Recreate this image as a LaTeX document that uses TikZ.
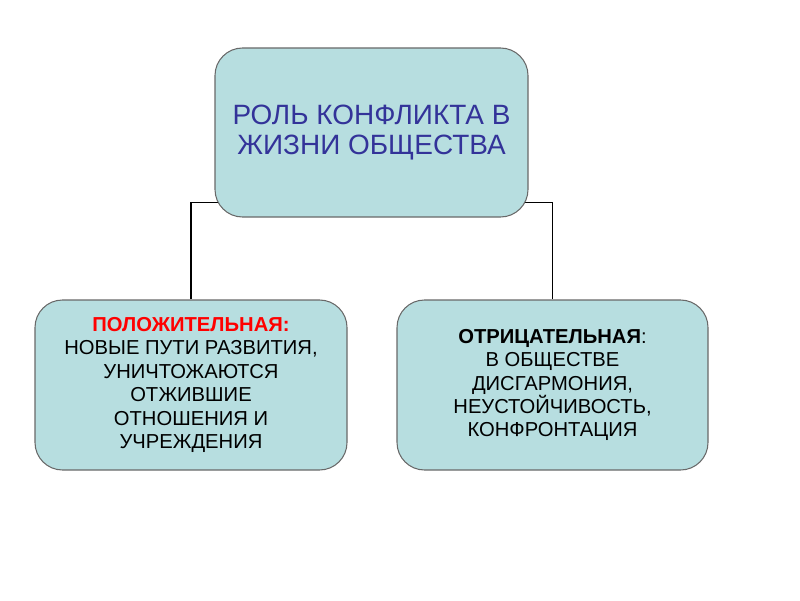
\documentclass[tikz,border=0pt]{standalone}
\usepackage{fontspec}
\setmainfont{Liberation Sans}
\usepackage{tikz}
\usetikzlibrary{positioning,backgrounds}
\usepackage{xcolor}
\definecolor{rlteal}{RGB}{183,222,224}
\definecolor{rlgray}{RGB}{105,105,105}
\definecolor{rlnavy}{RGB}{51,51,153}
\definecolor{rlred}{RGB}{255,0,0}
\tikzstyle{rolebox} = [rectangle, rounded corners=0.55cm, minimum width=6.26cm, minimum height=3.38cm, text centered, align=center, draw=rlgray, fill=rlteal, line width=0.6pt]
\tikzstyle{link} = [line width=1.1pt, color=black]

\begin{document}
\begin{tikzpicture}
\useasboundingbox (0,0) rectangle (16,12);
% Central node
\node[rolebox, text=rlnavy, font=\fontsize{15.9}{17}\selectfont] (role) at (7.43,9.35) {РОЛЬ КОНФЛИКТА В\\ ЖИЗНИ ОБЩЕСТВА};

% Sides
\node[rolebox, minimum width=6.24cm, minimum height=3.4cm, font=\fontsize{11.5}{13.3}\selectfont] (pos) at (3.82,4.3) {\textcolor{rlred}{\textbf{ПОЛОЖИТЕЛЬНАЯ:}}\\ НОВЫЕ ПУТИ РАЗВИТИЯ,\\ УНИЧТОЖАЮТСЯ\\ ОТЖИВШИЕ\\ ОТНОШЕНИЯ И\\ УЧРЕЖДЕНИЯ};
\node[rolebox, minimum width=6.22cm, minimum height=3.4cm, font=\fontsize{11.5}{13.3}\selectfont] (neg) at (11.05,4.3) {\textbf{ОТРИЦАТЕЛЬНАЯ}:\\ В ОБЩЕСТВЕ\\ ДИСГАРМОНИЯ,\\ НЕУСТОЙЧИВОСТЬ,\\ КОНФРОНТАЦИЯ};

% Connections
\begin{scope}[on background layer]
\draw[link] (pos.north) |- ([yshift=0.3cm]role.south);
\draw[link] (neg.north) |- ([yshift=0.3cm]role.south);
\end{scope}
\end{tikzpicture}
\end{document}
